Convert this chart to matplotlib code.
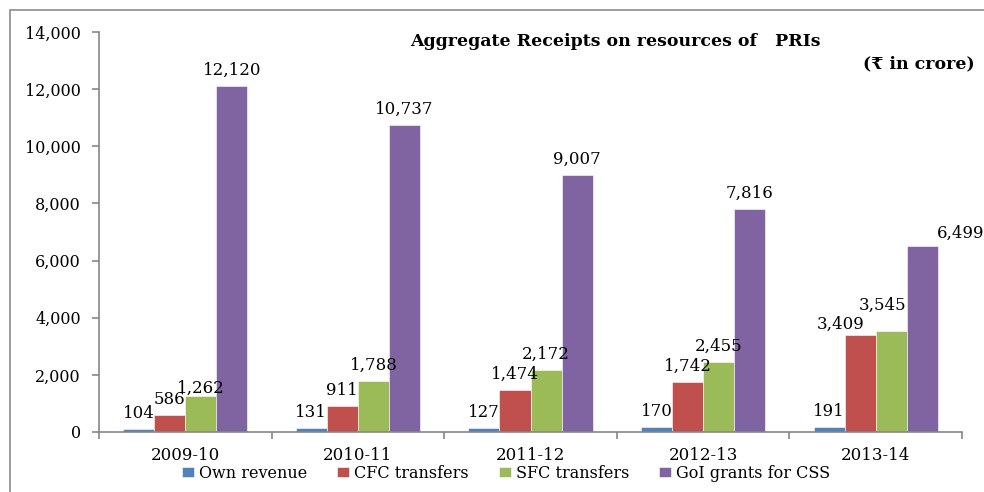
import numpy as np
import matplotlib
matplotlib.use("Agg")
import matplotlib.pyplot as plt
from matplotlib.patches import Rectangle
from matplotlib.ticker import FuncFormatter, FixedLocator

# data (Rs in crore)
years = ['2009-10', '2010-11', '2011-12', '2012-13', '2013-14']
own_revenue = [104, 131, 127, 170, 191]
cfc_transfers = [586, 911, 1474, 1742, 3409]
sfc_transfers = [1262, 1788, 2172, 2455, 3545]
goi_grants = [12120, 10737, 9007, 7816, 6499]

series_names = ['Own revenue', 'CFC transfers', 'SFC transfers', 'GoI grants for CSS']
colors = ['#4F81BD', '#C0504D', '#9BBB59', '#8064A2']

# hand-moved labels in the original (series idx, year idx) -> (dx, dy) pixels
label_nudge = {(2, 0): (0, -8), (1, 4): (-20, -5), (2, 4): (-9, 10), (3, 4): (38, -3)}

plt.rcParams['font.family'] = ['DejaVu Serif', 'DejaVu Sans']

fig = plt.figure(figsize=(9.84, 4.92), dpi=100)
ax = fig.add_axes([99/984, 1-432/492, (962-99)/984, 400/492])

# outer chart border (right/bottom edges run off the picture)
fig.patches.append(Rectangle((10/984, -0.05), 1.2, 1-10/492+0.05, transform=fig.transFigure,
                             fill=False, edgecolor='#8c8c8c', linewidth=1.2))

x = np.arange(len(years))
width = 0.18
all_series = [own_revenue, cfc_transfers, sfc_transfers, goi_grants]
px = 72 / 100  # points per pixel
for i, vals in enumerate(all_series):
    pos = x + (i - 1.5) * width
    ax.bar(pos, vals, width, color=colors[i], label=series_names[i],
           edgecolor='white', linewidth=0.4, zorder=2)
    for j, (xb, v) in enumerate(zip(pos, vals)):
        dx, dy = label_nudge.get((i, j), (0, 0))
        ax.annotate(f'{v:,}', (xb, v), xytext=(dx * px, (11 + dy) * px),
                    textcoords='offset points', ha='center', va='baseline',
                    fontsize=12, color='black', annotation_clip=False, zorder=3)

ax.set_xlim(-0.5, len(years) - 0.5)
ax.set_ylim(0, 14000)
ax.set_yticks(np.arange(0, 14001, 2000))
ax.yaxis.set_major_formatter(FuncFormatter(lambda v, p: f'{int(v):,}'))

ax.set_xticks(x)
ax.set_xticklabels(years, fontsize=12)
ax.xaxis.set_minor_locator(FixedLocator(np.arange(-0.5, len(years), 1.0)))
ax.tick_params(axis='x', which='major', length=0, pad=11)
ax.tick_params(axis='x', which='minor', length=5, color='#868686', width=1.2, direction='out')
ax.tick_params(axis='y', length=5, color='#868686', width=1.2, labelsize=11.5, pad=8)

for s in ['top', 'right']:
    ax.spines[s].set_visible(False)
for s in ['left', 'bottom']:
    ax.spines[s].set_color('#868686')
    ax.spines[s].set_linewidth(1.2)

fig.text(615/984, 1-42/492, 'Aggregate Receipts on resources of   PRIs', ha='center', va='center',
         fontsize=12.5, fontweight='bold')
fig.text(975/984, 1-64/492, '(\u20b9 in crore)', ha='right', va='center',
         fontsize=12.5, fontweight='bold')

fig.legend(loc='center', bbox_to_anchor=(506/984, 1-473/492), ncol=4, frameon=False,
           fontsize=11.5, handlelength=0.75, handleheight=0.55, handletextpad=0.3,
           columnspacing=1.9, borderaxespad=0, borderpad=0)

fig.savefig('out.png', dpi=100)
